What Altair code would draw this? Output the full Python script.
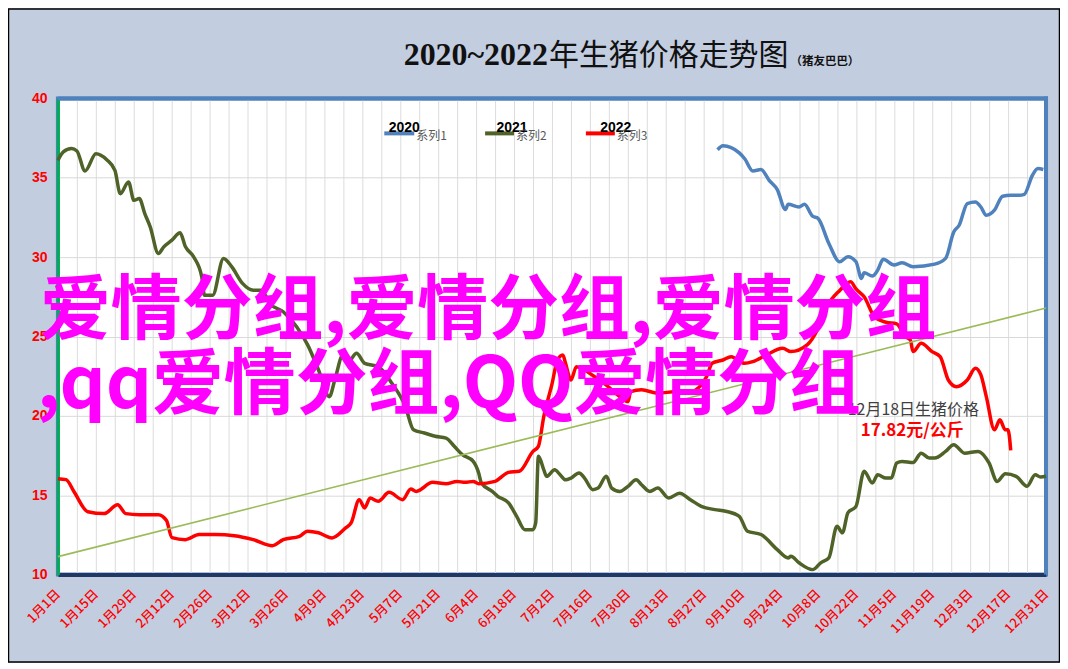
import altair as alt
import pandas as pd

# ---------------- data ----------------
tick_labels = ["1月1日", "1月15日", "1月29日", "2月12日", "2月26日", "3月12日", "3月26日",
               "4月9日", "4月23日", "5月7日", "5月21日", "6月4日", "6月18日", "7月2日",
               "7月16日", "7月30日", "8月13日", "8月27日", "9月10日", "9月24日", "10月8日",
               "10月22日", "11月5日", "11月19日", "12月3日", "12月17日", "12月31日"]

series_names = ["2020", "2021", "2022"]
series_labels = ["系列1", "系列2", "系列3"]
series_colors = ["#4f81bd", "#4f6228", "#ff0000"]

# day index from 1月1日 (0) to 12月31日 (364)
days_2020 = [243, 245, 251, 253, 256, 259, 262, 265, 268, 269, 273, 275, 278, 280, 284, 288,
             291, 294, 296, 297, 300, 302, 304, 308, 311, 315, 323, 327, 330, 332, 335, 338,
             340, 342, 345, 348, 351, 354, 356, 359, 361, 363]
vals_2020 = [36.77, 37.02, 36.57, 36.2, 35.43, 35.52, 34.84, 34.26, 33.0, 33.33, 33.16, 33.33,
             32.58, 32.44, 30.86, 29.71, 30.03, 29.71, 28.66, 29.02, 28.81, 29.18, 29.86, 29.5,
             29.65, 29.4, 29.56, 29.92, 31.59, 32.01, 33.38, 33.48, 33.16, 32.64, 32.96, 33.84,
             33.9, 33.9, 33.96, 35.16, 35.58, 35.52]

days_2021 = [0, 2, 5, 7, 10, 14, 18, 21, 23, 26, 28, 30, 32, 34, 37, 39, 42, 45, 47, 50, 53, 54,
             57, 61, 64, 68, 72, 75, 78, 83, 88, 92, 96, 100, 102, 105, 107, 110, 113, 118, 123,
             128, 131, 135, 139, 143, 146, 149, 153, 155, 156, 160, 162, 166, 169, 172, 175, 176,
             177, 179, 180, 183, 185, 187, 189, 192, 194, 197, 199, 202, 204, 207, 210, 213, 215,
             218, 221, 225, 229, 233, 237, 242, 246, 251, 254, 259, 265, 269, 270, 273, 278, 281,
             284, 287, 289, 291, 294, 297, 300, 302, 305, 307, 309, 311, 315, 318, 321, 323, 327,
             330, 334, 339, 343, 346, 349, 353, 357, 360, 362, 364]
vals_2021 = [36.1, 36.63, 36.84, 36.69, 35.43, 36.52, 36.14, 35.47, 34.0, 34.74, 33.58, 33.69,
             32.75, 31.91, 30.23, 30.65, 31.07, 31.53, 30.65, 30.02, 28.76, 27.6, 27.6, 29.92,
             29.4, 28.35, 27.92, 27.92, 27.08, 26.56, 25.6, 24.47, 22.89, 21.21, 22.26, 23.84,
             23.42, 23.94, 23.31, 23.1, 22.05, 20.59, 19.12, 18.92, 18.71, 18.6, 18.08, 17.55,
             17.13, 16.4, 15.77, 15.24, 14.93, 14.51, 13.67, 12.83, 12.83, 13.25, 17.45, 16.6,
             16.19, 16.6, 16.29, 15.97, 16.08, 16.4, 16.08, 15.35, 15.45, 16.19, 15.45, 15.24,
             15.56, 15.97, 15.66, 15.24, 15.45, 14.82, 15.13, 14.72, 14.3, 14.09, 13.99, 13.67,
             12.73, 12.52, 11.57, 11.05, 11.15, 10.74, 10.31, 10.74, 11.05, 13.04, 12.63, 13.89,
             14.3, 16.51, 15.77, 16.29, 16.08, 16.08, 17.03, 17.13, 17.06, 17.65, 17.34, 17.34,
             17.76, 18.18, 17.65, 17.76, 17.03, 15.87, 16.35, 16.19, 15.56, 16.29, 16.14, 16.19]

days_2022 = [0, 3, 6, 11, 17, 22, 25, 30, 37, 40, 42, 47, 52, 58, 65, 72, 79, 83, 89, 92, 96,
             101, 106, 108, 111, 113, 115, 118, 122, 127, 130, 132, 138, 143, 147, 150, 153, 155,
             161, 166, 170, 175, 177, 179, 182, 184, 186, 187, 189, 191, 194, 199, 203, 207, 210,
             211, 215, 221, 228, 233, 239, 241, 245, 248, 253, 256, 261, 267, 270, 276, 280, 283,
             288, 292, 294, 297, 301, 305, 309, 312, 314, 315, 318, 322, 325, 328, 331, 335, 338,
             340, 342, 345, 347, 349, 350, 351]
vals_2022 = [16.04, 15.98, 15.2, 13.96, 13.84, 14.4, 13.84, 13.77, 13.77, 13.4, 12.33, 12.2,
             12.52, 12.52, 12.45, 12.2, 11.82, 12.2, 12.41, 12.73, 12.63, 12.31, 12.94, 13.25,
             14.72, 14.2, 14.82, 14.62, 15.18, 14.72, 15.39, 15.24, 15.81, 15.72, 15.87, 15.81,
             15.87, 15.72, 15.87, 16.44, 16.51, 17.76, 18.08, 19.97, 22.0, 23.5, 23.84, 23.31,
             22.26, 23.1, 22.89, 22.3, 21.8, 21.21, 20.9, 21.53, 21.64, 21.43, 21.53, 21.53,
             22.48, 23.31, 23.52, 23.73, 23.31, 23.42, 23.84, 24.26, 24.05, 24.47, 25.5, 26.8,
             27.9, 28.45, 28.0, 27.5, 26.2, 25.9, 25.8, 25.0, 24.78, 24.05, 24.57, 24.05, 23.73,
             22.26, 21.84, 22.26, 23.0, 22.58, 21.21, 19.12, 19.75, 19.12, 19.12, 17.82]

trend_days = [0, 364]
trend_vals = [11.13, 26.79]

title_main_num = "2020~2022"
title_main_cjk = "年生猪价格走势图"
title_sub = "（猪友巴巴）"
overlay_line1 = "爱情分组,爱情分组,爱情分组"
overlay_line2 = ",qq爱情分组,QQ爱情分组"
note_line1 = "12月18日生猪价格"
note_line2 = "17.82元/公斤"

# ---------------- build ----------------
frames = []
for name, d, v in [("2020", days_2020, vals_2020), ("2021", days_2021, vals_2021),
                   ("2022", days_2022, vals_2022)]:
    frames.append(pd.DataFrame({"day": d, "price": v, "series": name}))
df = pd.concat(frames, ignore_index=True)
trend_df = pd.DataFrame({"day": trend_days, "price": trend_vals})

W, H = 990, 477
xscale = alt.Scale(domain=[0, 364], nice=False, zero=False, padding=0)
yscale = alt.Scale(domain=[10, 40], nice=False, zero=False)

labels_js = "[" + ",".join("'" + s + "'" for s in tick_labels) + "]"
label_expr = "datum.value % 14 === 0 ? " + labels_js + "[datum.value / 14] : ''"

x_axis = alt.Axis(values=list(range(0, 365, 7)), labelExpr=label_expr, title=None,
                  ticks=False, domainColor="#203864", domainWidth=4,
                  grid=True, gridColor="#dcdcdc", gridWidth=1,
                  labelAngle=-45, labelAlign="right", labelBaseline="middle",
                  labelColor="#ff0000", labelFont="Noto Sans CJK SC", labelFontSize=13,
                  labelFontWeight=500,
                  labelPadding=17, labelOverlap=False, labelBound=False, labelFlush=False)
y_axis = alt.Axis(values=[10, 15, 20, 25, 30, 35, 40], title=None, ticks=False,
                  domainColor="#00b050", domainWidth=3, grid=True, gridColor="#d9d9d9",
                  labelColor="#ff0000", labelFont="Liberation Sans", labelFontSize=14,
                  labelFontWeight="bold", labelPadding=11, labelFlush=False)

lines = alt.Chart(df).mark_line(strokeWidth=3.5, interpolate="monotone").encode(
    x=alt.X("day:Q", scale=xscale, axis=x_axis),
    y=alt.Y("price:Q", scale=yscale, axis=y_axis),
    color=alt.Color("series:N", scale=alt.Scale(domain=series_names, range=series_colors),
                    legend=None),
)

trend = alt.Chart(trend_df).mark_line(strokeWidth=1.6, color="#9bbb59").encode(
    x=alt.X("day:Q", scale=xscale, axis=x_axis),
    y=alt.Y("price:Q", scale=yscale, axis=y_axis),
)


def text_layer(txt, x, y, **kw):
    return alt.Chart(pd.DataFrame({"t": [txt]})).mark_text(**kw).encode(
        text="t:N", x=alt.value(x), y=alt.value(y))


one_row = pd.DataFrame({"k": [0]})
# plot-area top and right borders
border_top = alt.Chart(one_row).mark_rule(color="#4f81bd", strokeWidth=4).encode(
    x=alt.value(0), x2=alt.value(W + 2), y=alt.value(0))
border_right = alt.Chart(one_row).mark_rule(color="#4f81bd", strokeWidth=4).encode(
    x=alt.value(W), y=alt.value(-2), y2=alt.value(H))

layers = [border_top, border_right, lines, trend]

# title
layers.append(text_layer(title_main_num, 491, -34, align="right", baseline="alphabetic",
                         font="Liberation Serif", fontSize=32, fontWeight="bold",
                         color="#111111"))
layers.append(text_layer(title_main_cjk, 492, -34, align="left", baseline="alphabetic",
                         font="Noto Sans CJK SC", fontSize=30, fontWeight="normal",
                         color="#111111"))
layers.append(text_layer(title_sub, 734, -34, align="left", baseline="alphabetic",
                         font="Noto Sans CJK SC", fontSize=11.5, fontWeight="bold",
                         color="#111111"))

# legend
leg_line_x = [(327, 357), (428, 457), (529, 558)]
leg_year_x = [347, 455, 559]
leg_lab_x = [359, 459, 560]
for i in range(3):
    one = pd.DataFrame({"k": [series_names[i]]})
    layers.append(alt.Chart(one).mark_rule(color=series_colors[i], strokeWidth=4).encode(
        x=alt.value(leg_line_x[i][0]), x2=alt.value(leg_line_x[i][1]), y=alt.value(35)))
    layers.append(text_layer(series_names[i], leg_year_x[i], 34, align="center",
                             baseline="alphabetic", font="Liberation Sans", fontSize=14,
                             fontWeight="bold", color="#000000"))
    layers.append(text_layer(series_labels[i], leg_lab_x[i], 42, align="left",
                             baseline="alphabetic", font="Noto Sans CJK SC", fontSize=12,
                             color="#595959"))

# annotation
layers.append(text_layer(note_line1, 857, 317, align="center", baseline="alphabetic",
                         font="Noto Sans CJK SC", fontSize=16, color="#404040"))
layers.append(text_layer(note_line2, 856, 338, align="center", baseline="alphabetic",
                         font="Noto Sans CJK SC", fontSize=17, fontWeight="bold",
                         color="#ff0000"))

# big overlay text
layers.append(text_layer(overlay_line1, -18, 235, align="left", baseline="alphabetic",
                         font="Noto Sans CJK SC", fontSize=71, fontWeight="bold",
                         color="#ff00ff"))
layers.append(text_layer(overlay_line2, -21, 310, align="left", baseline="alphabetic",
                         font="Noto Sans CJK SC", fontSize=72, fontWeight="bold",
                         color="#ff00ff"))

# outer frame
layers.append(alt.Chart(one_row).mark_rect(
    fillOpacity=0, stroke="#000000", strokeWidth=1.5).encode(
    x=alt.value(-49.5), x2=alt.value(1003.5), y=alt.value(-89.5), y2=alt.value(564.5)))

chart = alt.layer(*layers).properties(
    width=W, height=H,
    autosize=alt.AutoSizeParams(type="none"),
    padding={"left": 50, "top": 90, "right": 14, "bottom": 88},
    background="#c3cde0",
).configure_view(fill="white", stroke="#4f81bd", strokeWidth=4)

chart.save("out.html", embed_options={"renderer": "svg", "actions": False})
